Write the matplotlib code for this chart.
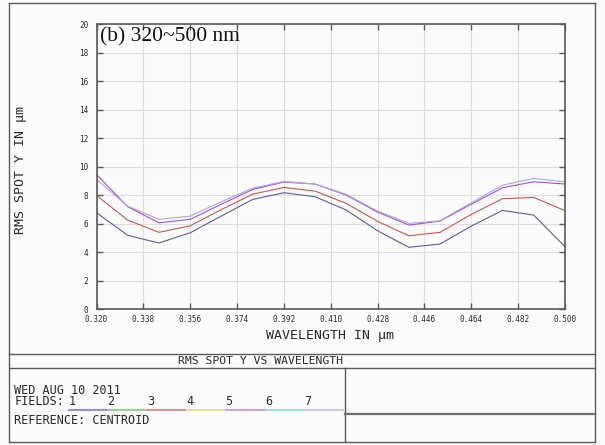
import matplotlib
matplotlib.use("Agg")
import matplotlib.pyplot as plt
from matplotlib.lines import Line2D

W, H = 605, 445

wavelength = [0.320, 0.332, 0.344, 0.356, 0.368, 0.380, 0.392, 0.404,
              0.416, 0.428, 0.440, 0.452, 0.464, 0.476, 0.488, 0.500]
field1 = [6.78, 5.19, 4.65, 5.37, 6.55, 7.71, 8.18, 7.90,
          6.96, 5.51, 4.35, 4.58, 5.84, 6.94, 6.61, 4.39]
field3 = [7.99, 6.26, 5.40, 5.86, 7.00, 8.08, 8.55, 8.29,
          7.43, 6.17, 5.16, 5.40, 6.66, 7.76, 7.85, 6.92]
field5 = [9.46, 7.20, 6.07, 6.31, 7.38, 8.41, 8.93, 8.79,
          8.01, 6.82, 5.91, 6.19, 7.38, 8.53, 8.95, 8.79]
field7 = [9.11, 7.24, 6.31, 6.54, 7.55, 8.50, 8.97, 8.79,
          8.06, 6.89, 6.03, 6.21, 7.48, 8.71, 9.18, 8.95]

x_ticks = [0.320, 0.338, 0.356, 0.374, 0.392, 0.410, 0.428, 0.446, 0.464, 0.482, 0.500]
x_tick_labels = ["0.320", "0.338", "0.356", "0.374", "0.392", "0.410",
                 "0.428", "0.446", "0.464", "0.482", "0.500"]
y_ticks = [0, 2, 4, 6, 8, 10, 12, 14, 16, 18, 20]
y_tick_labels = ["0", "2", "4", "6", "8", "10", "12", "14", "16", "18", "20"]
field_names = ["1", "2", "3", "4", "5", "6", "7"]
field_key_colors = ["#9890c0", "#98d098", "#d09898", "#e0dca8",
                    "#d0a0d8", "#a0dcdc", "#c8c8e8"]

series = [(field1, "#5e5c9c"), (field3, "#c05a50"),
          (field5, "#a650c8"), (field7, "#a8a8dc")]

BG = "#fbfbfb"
FRAME = "#5a5a5a"
MONO = "DejaVu Sans Mono"
TXT = "#2a2a2a"

fig = plt.figure(figsize=(W / 100, H / 100), dpi=100, facecolor=BG)


def fx(px):
    return px / W


def fy(py):
    return 1 - py / H


def hline(x0, x1, y, lw=1.0, color=FRAME):
    fig.add_artist(Line2D([fx(x0), fx(x1)], [fy(y), fy(y)], lw=lw, color=color,
                          transform=fig.transFigure))


def vline(x, y0, y1, lw=1.0, color=FRAME):
    fig.add_artist(Line2D([fx(x), fx(x)], [fy(y0), fy(y1)], lw=lw, color=color,
                          transform=fig.transFigure))


# plot area
L, R, T, B = 96.5, 565.0, 24.3, 309.3
ax = fig.add_axes([fx(L), fy(B), fx(R) - fx(L), fy(T) - fy(B)])
ax.set_facecolor(BG)
for data, col in series:
    ax.plot(wavelength, data, color=col, lw=0.8)

ax.set_xlim(0.320, 0.500)
ax.set_ylim(0, 20)
ax.set_xticks(x_ticks)
ax.set_xticklabels(x_tick_labels, fontfamily=MONO, fontsize=5.6, color=TXT)
ax.set_yticks(y_ticks)
ax.set_yticklabels(y_tick_labels, fontfamily=MONO, fontsize=5.6, color=TXT)
ax.tick_params(direction="in", length=4, width=1, color=FRAME,
               top=True, right=True, pad=4)
ax.tick_params(axis="y", pad=6)
ax.grid(True, color="#dddddd", lw=0.8)
ax.set_axisbelow(True)
for s in ax.spines.values():
    s.set_color(FRAME)
    s.set_linewidth(1.2)

ax.text(0.007, 0.988, "(b) 320~500 nm", transform=ax.transAxes,
        fontfamily="Liberation Serif", fontsize=15.5, va="top", ha="left",
        color="#111111")

fig.text(fx(330), fy(336), "WAVELENGTH IN \u03bcm", fontfamily=MONO,
         fontsize=9.5, ha="center", va="center", color=TXT)
fig.text(fx(21), fy(170), "RMS SPOT Y IN \u03bcm", fontfamily=MONO,
         fontsize=9.5, ha="center", va="center", rotation=90, color=TXT)

# frame and footer boxes
X0, X1, Y0, Y1 = 8.5, 594.5, 2.5, 441.5
hline(X0, X1, Y0)
hline(X0, X1, Y1)
vline(X0, Y0, Y1)
vline(X1, Y0, Y1)
hline(X0, X1, 353.7)
hline(X0, X1, 368.3)
vline(345, 368.3, Y1)
hline(345, X1, 414, lw=1.6, color="#707070")

fig.text(fx(261), fy(361), "RMS SPOT Y VS WAVELENGTH", fontfamily=MONO,
         fontsize=8.2, ha="center", va="center", color=TXT)
fig.text(fx(14.5), fy(390), "WED AUG 10 2011", fontfamily=MONO,
         fontsize=8.5, ha="left", va="center", color=TXT)
fig.text(fx(14.5), fy(401.5), "FIELDS:", fontfamily=MONO,
         fontsize=8.5, ha="left", va="center", color=TXT)
fig.text(fx(14.5), fy(421), "REFERENCE: CENTROID", fontfamily=MONO,
         fontsize=8.5, ha="left", va="center", color=TXT)

seg0, seg_w = 68.0, 39.4
for i, (name, col) in enumerate(zip(field_names, field_key_colors)):
    xs = seg0 + i * seg_w
    lx = xs + 1 if i == 0 else xs
    fig.text(fx(lx), fy(401.5), name, fontfamily=MONO, fontsize=8.5,
             ha="left", va="center", color=TXT)
    hline(xs + 0.5, xs + seg_w - 0.5, 410, lw=1.5, color=col)

fig.savefig("out.png", dpi=100, facecolor=BG)
